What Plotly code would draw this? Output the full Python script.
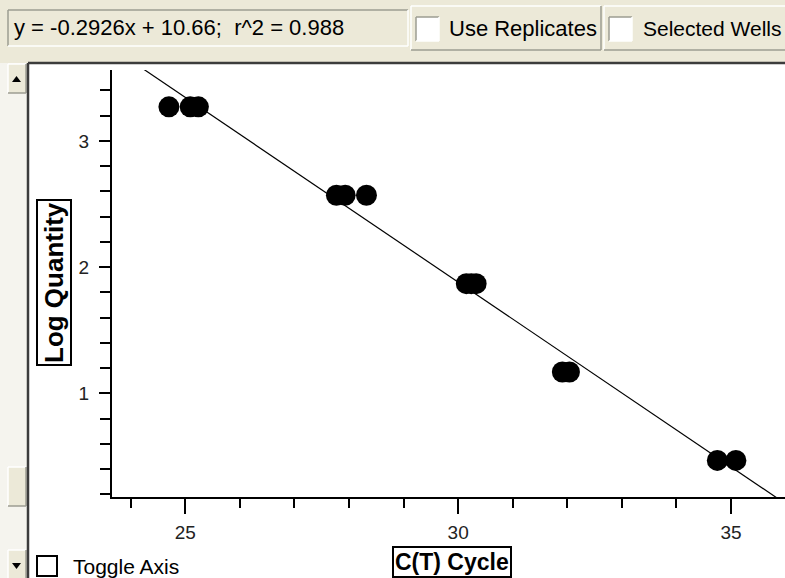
import plotly.graph_objects as go

# ---- data -------------------------------------------------------------
ct_cycle = [24.70, 25.09, 25.24,
            27.77, 27.93, 28.32,
            30.15, 30.24, 30.33,
            31.91, 32.04,
            34.75, 35.09]
log_quantity = [3.27, 3.27, 3.27,
                2.57, 2.57, 2.57,
                1.87, 1.87, 1.87,
                1.17, 1.17,
                0.47, 0.47]
slope, intercept, r_squared = -0.2926, 10.66, 0.988
x_range = [23.657, 35.99]
y_range = [0.18, 3.562]

# ---- page geometry (pixels) --------------------------------------------
W, H = 785, 578
L, R, T, B = 112, 785, 70, 497          # plotting area
PW, PH = R - L, B - T

def px(x):
    return (x - L) / PW

def py(y):
    return (B - y) / PH

BEIGE = "#ECE9D8"
TRACK = "#F5F4EE"
DARK = "#3C3C3C"
GREY = "#9D9D92"
FONT = "Liberation Sans, Arial, sans-serif"

fig = go.Figure()

# fitted standard curve
fit_x = [x_range[0], x_range[1]]
fit_y = [slope * v + intercept for v in fit_x]
fig.add_trace(go.Scatter(x=fit_x, y=fit_y, mode="lines",
                         line=dict(color="black", width=1.2),
                         hoverinfo="skip", showlegend=False))

# standards
fig.add_trace(go.Scatter(x=ct_cycle, y=log_quantity, mode="markers",
                         marker=dict(color="black", size=21, line=dict(width=0)),
                         showlegend=False))

shapes = []

def rect(x0, y0, x1, y1, fill, line_color=None, line_width=0):
    shapes.append(dict(type="rect", xref="paper", yref="paper",
                       x0=px(x0), x1=px(x1), y0=py(y1), y1=py(y0),
                       fillcolor=fill,
                       line=dict(color=line_color or fill, width=line_width),
                       layer="above"))

def seg(x0, y0, x1, y1, color, width=1):
    shapes.append(dict(type="line", xref="paper", yref="paper",
                       x0=px(x0), x1=px(x1), y0=py(y0), y1=py(y1),
                       line=dict(color=color, width=width), layer="above"))

def tri(points, color="black"):
    path = "M " + " L ".join(f"{px(a)},{py(b)}" for a, b in points) + " Z"
    shapes.append(dict(type="path", xref="paper", yref="paper", path=path,
                       fillcolor=color, line=dict(color=color, width=0),
                       layer="above"))

def sunken(x0, y0, x1, y1, fill):
    rect(x0, y0, x1, y1, fill)
    seg(x0, y0, x1, y0, GREY, 1.5)
    seg(x0, y0, x0, y1, GREY, 1.5)
    seg(x0, y1, x1, y1, "white", 1.5)
    seg(x1, y0, x1, y1, "white", 1.5)

def raised(x0, y0, x1, y1, fill):
    rect(x0, y0, x1, y1, fill)
    seg(x0, y0, x1, y0, "white", 1.5)
    seg(x0, y0, x0, y1, "white", 1.5)
    seg(x0, y1, x1, y1, GREY, 1.5)
    seg(x1, y0, x1, y1, GREY, 1.5)

# toolbar strip
rect(0, 0, W, 63, BEIGE)
sunken(8, 10, 408, 46, BEIGE)
raised(411, 6, 601, 50, BEIGE)
raised(604, 6, W + 2, 50, BEIGE)
sunken(416, 17, 439, 41, "white")
sunken(609, 17, 632, 41, "white")

# scroll bar on the left
rect(0, 63, 28, H, TRACK)
raised(8, 64, 26, 93, BEIGE)
raised(8, 467, 26, 506, BEIGE)
raised(8, 550, 26, H + 2, BEIGE)
tri([(12, 82), (21, 82), (16.5, 76)])
tri([(12, 563), (21, 563), (16.5, 569)])

# sunken frame of the plot panel
seg(28, 63, 28, H, DARK, 2.5)
seg(28, 63, W, 63, DARK, 2.5)

# toggle-axis check box
rect(37, 556, 57, 576, "white", "black", 2)

annotations = [
    dict(text=f"y = {slope}x + {intercept};\u00a0 r^2 = {r_squared}",
         x=px(12), y=py(28), xanchor="left", yanchor="middle",
         font=dict(family=FONT, size=22, color="black")),
    dict(text="Use Replicates", x=px(447), y=py(29), xanchor="left",
         yanchor="middle", font=dict(family=FONT, size=22, color="black")),
    dict(text="Selected Wells", x=px(641), y=py(29), xanchor="left",
         yanchor="middle", font=dict(family=FONT, size=21, color="black")),
    dict(text="Toggle Axis", x=px(71), y=py(566), xanchor="left",
         yanchor="middle", font=dict(family=FONT, size=21, color="black")),
    dict(text="<b>C(T) Cycle</b>", x=px(452), y=py(561.5), xanchor="center",
         yanchor="middle", bordercolor="black", borderwidth=2, borderpad=1,
         font=dict(family=FONT, size=23, color="black")),
    dict(text="<b>Log Quantity</b>", x=px(53.5), y=py(282.5), xanchor="center",
         yanchor="middle", textangle=-90, bordercolor="black", borderwidth=2,
         borderpad=1, font=dict(family=FONT, size=26, color="black")),
]
for a in annotations:
    a.update(xref="paper", yref="paper", showarrow=False)

fig.update_layout(
    width=W, height=H,
    margin=dict(l=L, r=W - R, t=T, b=H - B),
    paper_bgcolor="white", plot_bgcolor="white",
    shapes=shapes, annotations=annotations,
    xaxis=dict(range=x_range, showgrid=False, zeroline=False,
               showline=True, linecolor="black", linewidth=2,
               ticks="outside", tick0=25, dtick=5, ticklen=15,
               tickwidth=2, tickcolor="black", ticklabelstandoff=2,
               tickfont=dict(family=FONT, size=19, color="#222"),
               minor=dict(ticks="outside", dtick=1, tick0=25, ticklen=9,
                          tickwidth=2, tickcolor="black")),
    yaxis=dict(range=y_range, showgrid=False, zeroline=False,
               showline=True, linecolor="black", linewidth=2,
               ticks="outside", tick0=0, dtick=1, ticklen=11,
               tickwidth=2, tickcolor="black", ticklabelstandoff=6,
               tickfont=dict(family=FONT, size=19, color="#222"),
               minor=dict(ticks="outside", dtick=0.2, tick0=0, ticklen=10,
                          tickwidth=2, tickcolor="black")),
)

fig.write_html("out.html")
